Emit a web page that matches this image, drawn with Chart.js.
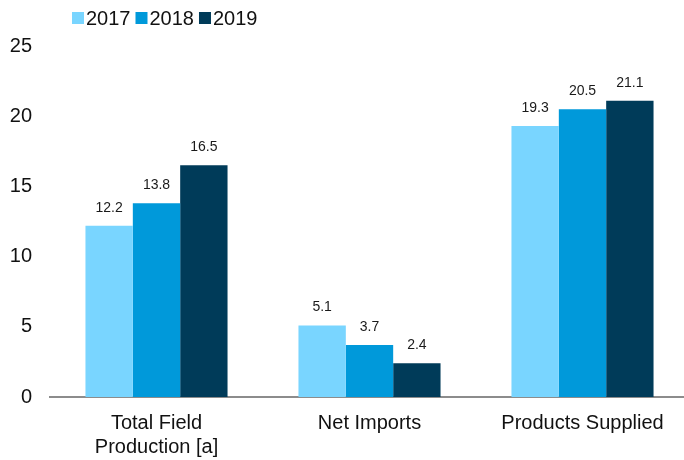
<!DOCTYPE html>
<html><head><meta charset="utf-8">
<script src="https://cdn.jsdelivr.net/npm/chart.js@4/dist/chart.umd.min.js"></script>
<style>html,body{margin:0;padding:0;background:#fff}#wrap{width:684px;height:460px}</style>
</head><body><div id="wrap"><canvas id="c" width="684" height="460"></canvas></div>
<script>
const categories = [["Total Field", "Production [a]"], "Net Imports", "Products Supplied"];
const seriesNames = ["2017", "2018", "2019"];
const values2017 = [12.2, 5.1, 19.3];
const values2018 = [13.8, 3.7, 20.5];
const values2019 = [16.5, 2.4, 21.1];
const yTicks = [0, 5, 10, 15, 20, 25];
const colors = ["#79D5FF", "#0099DA", "#003B59"];
const FONT = '"Liberation Sans", Arial, sans-serif';

const labelPlugin = {
  id: 'valLabels',
  afterDatasetsDraw(chart) {
    const ctx = chart.ctx;
    ctx.save();
    ctx.font = '14px ' + FONT;
    ctx.fillStyle = '#1a1a1a';
    ctx.textAlign = 'center';
    ctx.textBaseline = 'middle';
    chart.data.datasets.forEach((ds, i) => {
      chart.getDatasetMeta(i).data.forEach((bar, j) => {
        ctx.fillText(ds.data[j].toFixed(1), bar.x, bar.y - 18);
      });
    });
    ctx.restore();
  }
};

const legendPlugin = {
  id: 'customLegend',
  afterDraw(chart) {
    const ctx = chart.ctx;
    ctx.save();
    ctx.font = '20px ' + FONT;
    ctx.textBaseline = 'middle';
    ctx.textAlign = 'left';
    let x = 72;
    const yc = 18;
    chart.data.datasets.forEach((ds) => {
      ctx.fillStyle = ds.backgroundColor;
      ctx.fillRect(x, yc - 6, 12, 12);
      ctx.fillStyle = '#111';
      ctx.fillText(ds.label, x + 14, yc + 1);
      x += 14 + ctx.measureText(ds.label).width + 5;
    });
    ctx.restore();
  }
};

// The reference plot area runs slightly past the right edge of the canvas
const widenPlugin = {
  id: 'widen',
  afterLayout(chart) {
    const xs = chart.scales.x;
    const newRight = 689;
    xs.right = newRight;
    xs.width = newRight - xs.left;
    xs.configure();
    chart.chartArea.right = newRight;
    chart.chartArea.width = newRight - chart.chartArea.left;
  }
};

new Chart(document.getElementById('c'), {
  type: 'bar',
  data: {
    labels: categories,
    datasets: [values2017, values2018, values2019].map((d, i) => ({
      label: seriesNames[i], data: d, backgroundColor: colors[i],
      categoryPercentage: 0.667, barPercentage: 1.0
    }))
  },
  options: {
    responsive: false, animation: false,
    layout: { padding: { left: 0, right: 0, top: 46, bottom: 0 } },
    plugins: {
      tooltip: { enabled: false },
      legend: { display: false }
    },
    scales: {
      x: {
        afterFit(s) { s.height = 63; },
        grid: { display: false },
        border: { display: true, color: '#8c8c8c', width: 2 },
        ticks: { color: '#111', padding: 6, font: { family: FONT, size: 20 }, maxRotation: 0 }
      },
      y: {
        min: 0, max: 25,
        afterBuildTicks(s) { s.ticks = yTicks.map(v => ({ value: v })); },
        afterFit(s) { s.width = 50; },
        grid: { display: false },
        border: { display: false },
        ticks: { color: '#111', padding: 10, font: { family: FONT, size: 20 } }
      }
    }
  },
  plugins: [labelPlugin, legendPlugin, widenPlugin]
});
</script></body></html>
